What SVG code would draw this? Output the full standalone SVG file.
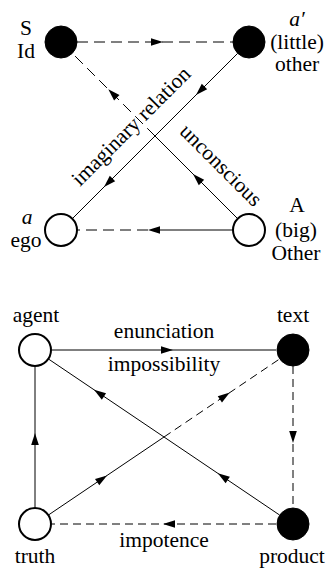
<svg xmlns="http://www.w3.org/2000/svg" xmlns:xlink="http://www.w3.org/1999/xlink" width="330" height="568" viewBox="0 0 330 568">
<style>
text{font-family:'Liberation Serif',serif;font-size:21.5px;fill:#000;text-anchor:middle}
.it{font-style:italic}
.ln{stroke:#000;stroke-width:1;fill:none}
.d1{stroke-dasharray:11 6}
.d2{stroke-dasharray:8 5}
.full{fill:#000;stroke:#000;stroke-width:1}
.hollow{fill:#fff;stroke:#000;stroke-width:2}
</style>
<defs>
<path id="ah" d="M0,0 L-12,-3.8 L-12,3.8 Z" fill="#000"/>
</defs>
<rect width="330" height="568" fill="#fff"/>
<g id="connectors">
<line class="ln d1" x1="77" y1="42" x2="233" y2="42"/>
<use xlink:href="#ah" transform="translate(163,42)"/>
<line class="ln" x1="237.7" y1="53.3" x2="72.3" y2="218.7"/>
<use xlink:href="#ah" transform="translate(196,95) rotate(135)"/>
<use xlink:href="#ah" transform="translate(104,187) rotate(135)"/>
<line class="ln" x1="237.7" y1="218.7" x2="155" y2="136"/>
<line class="ln d1" x1="155" y1="136" x2="72.3" y2="53.3"/>
<use xlink:href="#ah" transform="translate(193,174) rotate(225)"/>
<use xlink:href="#ah" transform="translate(108.3,89.3) rotate(225)"/>
<line class="ln" x1="233" y1="230" x2="158" y2="230"/>
<line class="ln d1" x1="148" y1="230" x2="77" y2="230"/>
<use xlink:href="#ah" transform="translate(148,230) rotate(180)"/>
<line class="ln" x1="52" y1="350" x2="276" y2="350"/>
<use xlink:href="#ah" transform="translate(173,350)"/>
<line class="ln d2" x1="293" y1="366" x2="293" y2="508"/>
<use xlink:href="#ah" transform="translate(293,443) rotate(90)"/>
<line class="ln d2" x1="276" y1="524" x2="52" y2="524"/>
<use xlink:href="#ah" transform="translate(163,524) rotate(180)"/>
<line class="ln" x1="35" y1="507" x2="35" y2="367"/>
<use xlink:href="#ah" transform="translate(35,433) rotate(-90)"/>
<line class="ln" x1="279.7" y1="515.1" x2="48.3" y2="358.9"/>
<use xlink:href="#ah" transform="translate(217.8,473.3) rotate(214)"/>
<use xlink:href="#ah" transform="translate(94,389.8) rotate(214)"/>
<line class="ln" x1="48.3" y1="515.1" x2="164" y2="437"/>
<line class="ln d2" x1="164" y1="437" x2="279.7" y2="358.9"/>
<use xlink:href="#ah" transform="translate(107.1,475.4) rotate(-34)"/>
<use xlink:href="#ah" transform="translate(229.8,392.6) rotate(-34)"/>
<text transform="translate(136,131) rotate(-45)">imaginary relation</text>
<text transform="translate(216,170) rotate(45)">unconscious</text>
<text x="164" y="338">enunciation</text>
<text x="164" y="371">impossibility</text>
<text x="164" y="547">impotence</text>
</g>
<g id="node-S">
<circle class="full" cx="61" cy="42" r="16"/>
<text x="26" y="35">S</text>
<text x="26" y="58">Id</text>
</g>
<g id="node-a-prime">
<circle class="full" cx="249" cy="42" r="16"/>
<text class="it" x="297" y="26">a′</text>
<text x="297" y="48.5">(little)</text>
<text x="297" y="71">other</text>
</g>
<g id="node-ego">
<circle class="hollow" cx="61" cy="230" r="16"/>
<text class="it" x="27" y="224">a</text>
<text x="26" y="247">ego</text>
</g>
<g id="node-A">
<circle class="hollow" cx="249" cy="230" r="16"/>
<text x="297" y="212">A</text>
<text x="296" y="237">(big)</text>
<text x="296" y="260">Other</text>
</g>
<g id="node-agent">
<circle class="hollow" cx="35" cy="350" r="16"/>
<text x="36" y="322">agent</text>
</g>
<g id="node-text">
<circle class="full" cx="293" cy="350" r="16"/>
<text x="293" y="322">text</text>
</g>
<g id="node-truth">
<circle class="hollow" cx="35" cy="524" r="16"/>
<text x="35" y="563">truth</text>
</g>
<g id="node-product">
<circle class="full" cx="293" cy="524" r="16"/>
<text x="292" y="563">product</text>
</g>
</svg>
